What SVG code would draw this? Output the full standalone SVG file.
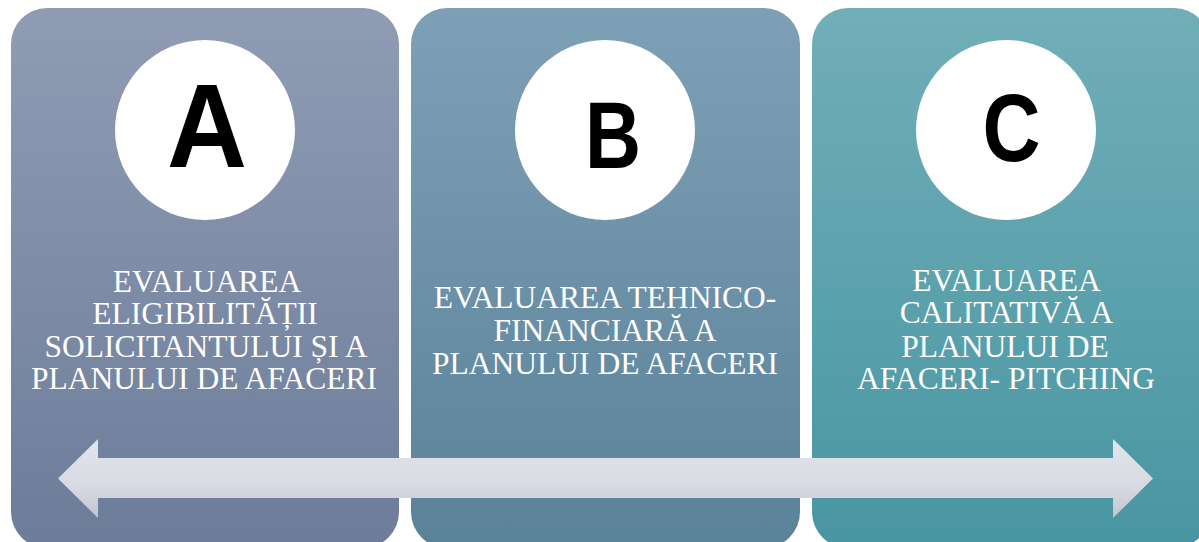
<svg xmlns="http://www.w3.org/2000/svg" width="1199" height="542" viewBox="0 0 1199 542">
<defs>
<linearGradient id="gA" x1="0" y1="0" x2="0" y2="1"><stop offset="0" stop-color="#909cb4"/><stop offset="1" stop-color="#6c7c99"/></linearGradient>
<linearGradient id="gB" x1="0" y1="0" x2="0" y2="1"><stop offset="0" stop-color="#7ea0b6"/><stop offset="1" stop-color="#5a8299"/></linearGradient>
<linearGradient id="gC" x1="0" y1="0" x2="0" y2="1"><stop offset="0" stop-color="#71aeb8"/><stop offset="1" stop-color="#4896a2"/></linearGradient>
<linearGradient id="gArr" x1="0" y1="439" x2="0" y2="518" gradientUnits="userSpaceOnUse"><stop offset="0" stop-color="#e2e4ea"/><stop offset="0.6" stop-color="#d7dae2"/><stop offset="1" stop-color="#c3c6cf"/></linearGradient>
</defs>
<style>
.letter{font-family:"Liberation Sans",Arial,sans-serif;font-weight:bold;fill:#000;text-anchor:middle}
.lbl{font-family:"Liberation Serif","Times New Roman",serif;font-size:31.5px;fill:#ffffff;text-anchor:middle}
.circ{fill:#ffffff}
</style>
<g id="nodeA">
<rect x="11" y="8" width="388" height="540" rx="36" ry="36" fill="url(#gA)"/>
<circle class="circ" cx="205" cy="130" r="90"/>
<text class="letter" x="207" y="167" font-size="118" textLength="80" lengthAdjust="spacingAndGlyphs">A</text>
<text class="lbl"><tspan x="207" y="291.5">EVALUAREA</tspan><tspan x="205" y="323.5">ELIGIBILITĂȚII</tspan><tspan x="206" y="356.5">SOLICITANTULUI ȘI A</tspan><tspan x="204" y="388.5">PLANULUI DE AFACERI</tspan></text>
</g>
<g id="nodeB">
<rect x="411" y="8" width="389" height="540" rx="36" ry="36" fill="url(#gB)"/>
<circle class="circ" cx="605" cy="130" r="90"/>
<text class="letter" x="613" y="168" font-size="95" textLength="56" lengthAdjust="spacingAndGlyphs">B</text>
<text class="lbl"><tspan x="605" y="308">EVALUAREA TEHNICO-</tspan><tspan x="605" y="341">FINANCIARĂ A</tspan><tspan x="605" y="373.5">PLANULUI DE AFACERI</tspan></text>
</g>
<g id="nodeC">
<rect x="812" y="8" width="398" height="540" rx="36" ry="36" fill="url(#gC)"/>
<circle class="circ" cx="1006" cy="130" r="90"/>
<text class="letter" x="1011.5" y="161" font-size="96" textLength="58" lengthAdjust="spacingAndGlyphs">C</text>
<text class="lbl"><tspan x="1006.5" y="290.5">EVALUAREA</tspan><tspan x="1006.5" y="323">CALITATIVĂ A</tspan><tspan x="1005" y="356.5">PLANULUI DE</tspan><tspan x="1006" y="389">AFACERI- PITCHING</tspan></text>
</g>
<g id="connectors">
<path d="M58 478.5 L98 439 L98 458 L1113 458 L1113 439 L1153 478.5 L1113 518 L1113 498 L98 498 L98 518 Z" fill="url(#gArr)"/>
</g>
</svg>
